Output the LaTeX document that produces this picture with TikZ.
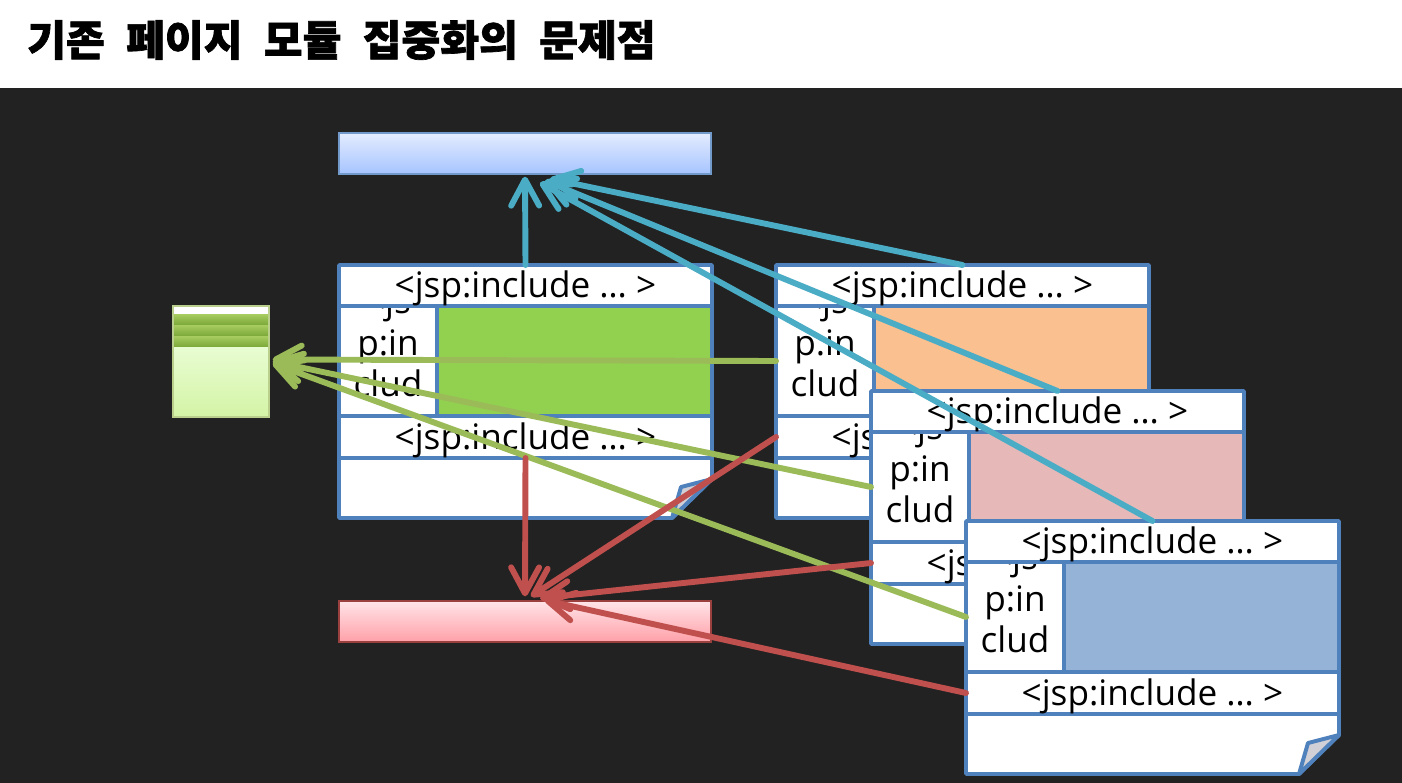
\documentclass[tikz,border=0pt]{standalone}
\usepackage{fontspec}
\newfontfamily\krfont{Noto Sans CJK KR}[WordSpace=2.2, BoldFeatures={FakeBold=1.6}]
\newfontfamily\jspfont{Open Sans}
\usetikzlibrary{arrows.meta,calc}
\definecolor{darkbg}{RGB}{34,34,34}
\definecolor{pageblue}{RGB}{79,129,189}
\definecolor{arrblue}{RGB}{75,172,198}
\definecolor{arrgreen}{RGB}{155,187,89}
\definecolor{arrred}{RGB}{192,80,77}
\definecolor{cellgreen}{RGB}{146,208,80}
\definecolor{cellorange}{RGB}{250,192,144}
\definecolor{cellpink}{RGB}{230,185,184}
\definecolor{cellblue}{RGB}{149,179,215}
\definecolor{foldgray}{RGB}{208,208,214}
\definecolor{barblueA}{RGB}{228,236,255}
\definecolor{barblueB}{RGB}{166,196,255}
\definecolor{barpinkA}{RGB}{255,228,232}
\definecolor{barpinkB}{RGB}{255,160,168}
\definecolor{menuA}{RGB}{232,252,210}
\definecolor{menuB}{RGB}{212,244,166}
\definecolor{stripeA}{RGB}{168,204,96}
\definecolor{stripeB}{RGB}{122,168,56}
\tikzset{
  % page parts
  pageline/.style  = {line width=2.8pt, draw=pageblue, line join=round},
  jsptext/.style   = {font=\jspfont\fontsize{25}{29}\selectfont, inner sep=0pt, anchor=base},
  % bars
  barbox/.style    = {minimum width=9.3cm, minimum height=1.025cm, inner sep=0pt},
  % connectors
  flowarrow/.style = {line width=4.2pt, line cap=round,
                      -{Straight Barb[length=6.5mm, width=7mm, round]}},
  bluearrow/.style = {flowarrow, draw=arrblue},
  greenarrow/.style= {flowarrow, draw=arrgreen},
  redarrow/.style  = {flowarrow, draw=arrred},
}
% one page: name, x, y, cell colour
\newcommand\jsppage[4]{%
  \begin{scope}[shift={(#2,#3)}]
    \fill[white] (0,0) -- (373,0) -- (373,214) -- (333,253) -- (0,253) -- cycle;
    \fill[#4] (98,41) rectangle (373,151);
    \begin{scope}
      \clip (0,41) rectangle (98,151);
      \node[jsptext] (#1-l1) at (49,48) {<js};
      \node[jsptext] (#1-l2) at (49,90) {p:in};
      \node[jsptext] (#1-l3) at (49,131) {clud};
    \end{scope}
    \draw[pageline] (0,41) -- (373,41) (0,151) -- (373,151)
                    (0,193) -- (373,193) (98,41) -- (98,151);
    \draw[pageline] (0,0) -- (373,0) -- (373,214) -- (333,253) -- (0,253) -- cycle;
    \filldraw[pageline, fill=foldgray] (373,214) -- (342,222) -- (333,253) -- cycle;
    \node[jsptext] (#1-head) at (186.5,32) {<jsp:include … >};
    \node[jsptext] (#1-foot) at (186.5,184) {<jsp:include … >};
    \coordinate (#1-top) at (186.5,0);
    \coordinate (#1-side) at (0,96);
    \coordinate (#1-inc) at (0,172);
    \coordinate (#1-low) at (186.5,193);
  \end{scope}}

\begin{document}
\begin{tikzpicture}[x=0.025cm, y=-0.025cm]
  \useasboundingbox (0,0) rectangle (1402,783);
  % slide
  \fill[white] (0,0) rectangle (1402,88);
  \fill[darkbg] (0,88) rectangle (1402,783);
  \node[font=\krfont\bfseries\fontsize{30}{34}\selectfont, anchor=west, inner sep=0pt]
    (title) at (27,40) {기존 페이지 모듈 집중화의 문제점};

  % pages
  \jsppage{pA}{339}{265}{cellgreen}
  \jsppage{pB}{776}{265}{cellorange}
  \jsppage{pC}{871}{391}{cellpink}
  \jsppage{pD}{966}{521}{cellblue}

  % top and bottom bars
  \node[barbox, top color=barblueA, bottom color=barblueB, draw=pageblue!80, line width=1pt]
    (headBar) at (525,153.5) {};
  \node[barbox, top color=barpinkA, bottom color=barpinkB, draw=arrred!80!black, line width=1pt]
    (footBar) at (525,621.5) {};

  % menu box
  \fill[white] (173,306) rectangle (269,314);
  \foreach \yy in {314,325,336}
    \shade[top color=stripeA, bottom color=stripeB] (173,\yy) rectangle (269,\yy+11);
  \shade[top color=menuA, bottom color=menuB] (173,347) rectangle (269,417);
  \node[draw=arrgreen!70!white, line width=1pt, minimum width=2.4cm, minimum height=2.775cm,
        inner sep=0pt] (menuBox) at (221,361.5) {};

  % connectors
  \draw[bluearrow] (pA-top) -- ($(headBar.south)+(0,2)$);
  \draw[bluearrow] (pB-top) -- ($(headBar.south)+(25,4)$);
  \draw[bluearrow] (pC-top) -- ($(headBar.south)+(20,6)$);
  \draw[bluearrow] (pD-top) -- ($(headBar.south)+(15,8)$);
  \draw[greenarrow] (pB-side) -- ($(menuBox.east)+(3,-2)$);
  \draw[greenarrow] (pC-side) -- ($(menuBox.east)+(3,0)$);
  \draw[greenarrow] (pD-side) -- ($(menuBox.east)+(3,2)$);
  \draw[redarrow] (pA-low) -- ($(footBar.north)+(0,-4)$);
  \draw[redarrow] (pB-inc) -- ($(footBar.north)+(6,-4)$);
  \draw[redarrow] (pC-inc) -- ($(footBar.north)+(15,-2)$);
  \draw[redarrow] (pD-inc) -- ($(footBar.north)+(20,0)$);
\end{tikzpicture}
\end{document}
